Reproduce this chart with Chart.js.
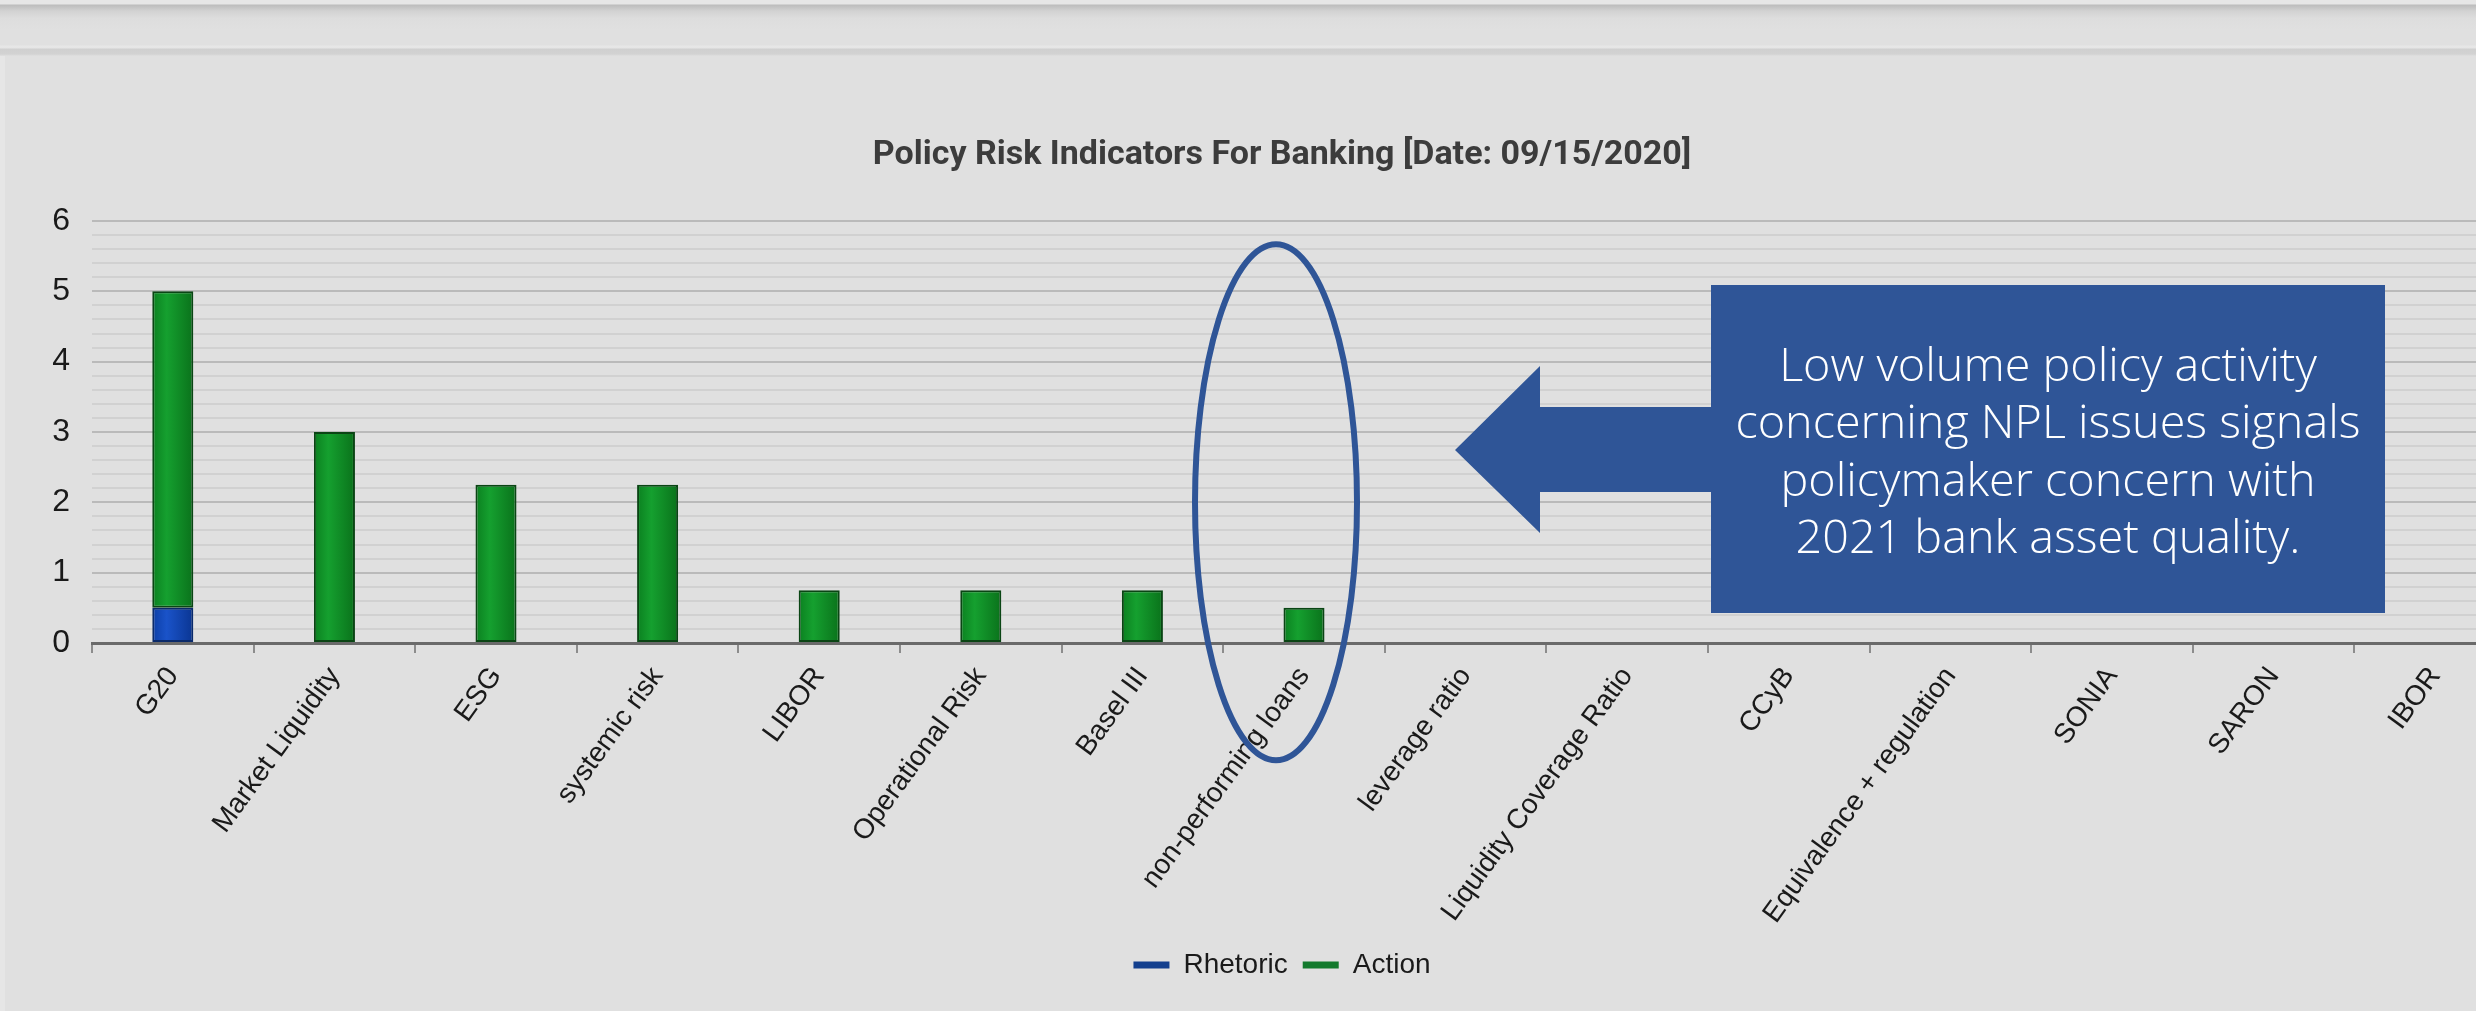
<!DOCTYPE html>
<html><head><meta charset="utf-8">
<script src="https://cdn.jsdelivr.net/npm/chart.js@4.4.1/dist/chart.umd.min.js"></script>
<style>
html,body{margin:0;padding:0;width:2476px;height:1011px;overflow:hidden;background:#e0e0e0;}
#topbar{position:absolute;left:0;top:0;width:2476px;height:56px;
  background:linear-gradient(to bottom,#e6e6e6 0px,#e6e6e6 4px,#bcbcbc 5px,#d2d2d2 11px,#dddddd 18px,#e0e0e0 30px,#e0e0e0 45px,#e7e7e7 46px,#e5e5e5 48px,#d0d0d0 49px,#d2d2d2 54px,#e0e0e0 56px);}
#leftedge{position:absolute;left:0;top:56px;width:5px;height:955px;background:#e6e6e6;}
#wrap{position:absolute;left:0;top:0;width:2564px;height:1011px;}
</style></head><body>
<div id="topbar"></div><div id="leftedge"></div>
<div id="wrap"><canvas id="c" width="2564" height="1011"></canvas></div>
<script>
// ---- data ----
const categories = ['G20','Market Liquidity','ESG','systemic risk','LIBOR','Operational Risk','Basel III','non-performing loans','leverage ratio','Liquidity Coverage Ratio','CCyB','Equivalence + regulation','SONIA','SARON','IBOR'];
const rhetoric = [0.5,0,0,0,0,0,0,0,0,0,0,0,0,0,0];
const action   = [4.5,3,2.25,2.25,0.75,0.75,0.75,0.5,0,0,0,0,0,0,0];
const seriesNames = ['Rhetoric','Action'];
const chartTitle = 'Policy Risk Indicators For Banking [Date: 09/15/2020]';
const calloutLines = ['Low volume policy activity','concerning NPL issues signals','policymaker concern with','2021 bank asset quality.'];
const highlightCategory = 'non-performing loans';

// ---- styling ----
const BAR_PCT = 0.254;
const greenStops = ['#0b8020','#15a02f','#0a721b'];
const blueStops  = ['#0c3ea6','#1a53c9','#0a3592'];
const legendColors = ['#133f8e','#137a2d'];
const calloutBlue = '#2f5597';
const isInt = v => Math.abs(v - Math.round(v)) < 1e-6;

function barGradient(c, stops){
  const chart = c.chart;
  if (!chart.chartArea || !chart.scales.x) return stops[1];
  const xs = chart.scales.x;
  const cx = xs.getPixelForValue(c.dataIndex);
  const w = xs.width / categories.length * BAR_PCT;
  const g = chart.ctx.createLinearGradient(cx - w/2, 0, cx + w/2, 0);
  g.addColorStop(0, stops[0]); g.addColorStop(0.35, stops[1]); g.addColorStop(1, stops[2]);
  return g;
}

const annotate = {
  id: 'annotate',
  afterDraw(chart){
    const {ctx, scales:{x, y}} = chart;
    ctx.save();
    const cx = x.getPixelForValue(categories.indexOf(highlightCategory)) - 28;
    const cy = y.getPixelForValue(2);
    ctx.beginPath();
    ctx.ellipse(cx, cy, 81, 258, 0, 0, Math.PI*2);
    ctx.lineWidth = 6; ctx.strokeStyle = calloutBlue; ctx.stroke();
    ctx.fillStyle = calloutBlue;
    ctx.beginPath();
    ctx.moveTo(1455,450); ctx.lineTo(1540,366); ctx.lineTo(1540,407); ctx.lineTo(1711,407);
    ctx.lineTo(1711,285); ctx.lineTo(2385,285); ctx.lineTo(2385,613); ctx.lineTo(1711,613);
    ctx.lineTo(1711,492); ctx.lineTo(1540,492); ctx.lineTo(1540,533); ctx.closePath();
    ctx.fill();
    ctx.font = '300 46px "Open Sans"';
    ctx.fillStyle = '#ffffff'; ctx.textAlign = 'center'; ctx.textBaseline = 'alphabetic';
    const maxW = Math.max(...calloutLines.map(l => ctx.measureText(l).width));
    const sx = 625 / maxW;
    calloutLines.forEach((l, i) => {
      ctx.save(); ctx.translate(2048, 381 + i*57.3); ctx.scale(sx, 1); ctx.fillText(l, 0, 0); ctx.restore();
    });
    ctx.restore();
  }
};

const tickFont = {family:'"Liberation Sans", Arial, sans-serif', size:28};

new Chart(document.getElementById('c'), {
  type: 'bar',
  data: {
    labels: categories,
    datasets: [
      {label: seriesNames[0], data: rhetoric, backgroundColor: c => barGradient(c, blueStops),
       borderColor: '#0a2a6a', borderWidth: 2, borderSkipped: false, barPercentage: BAR_PCT, categoryPercentage: 1},
      {label: seriesNames[1], data: action, backgroundColor: c => barGradient(c, greenStops),
       borderColor: '#0a4514', borderWidth: 2, borderSkipped: false, barPercentage: BAR_PCT, categoryPercentage: 1}
    ]
  },
  options: {
    responsive: false, animation: false,
    layout: {padding: {left: 48, right: 48, top: 0, bottom: 22}},
    scales: {
      x: {
        stacked: true,
        grid: {offset: true, drawOnChartArea: false, drawTicks: true, tickLength: 10, color: '#8c8c8c', lineWidth: 2},
        border: {display: true, color: '#6a6a6a', width: 3},
        ticks: {minRotation: 54, maxRotation: 54, autoSkip: false, color: '#1a1a1a', font: tickFont, padding: 8},
        afterFit: s => { s.height = 293; }
      },
      y: {
        stacked: true, min: 0, max: 6,
        ticks: {stepSize: 0.2, maxTicksLimit: 40, autoSkip: false, padding: 22, color: '#1a1a1a',
                font: {family: tickFont.family, size: 32},
                callback: v => isInt(v) ? String(Math.round(v)) : ''},
        grid: {drawTicks: false, color: c => isInt(c.tick.value) ? '#bababa' : '#d1d1d1', lineWidth: 2},
        border: {display: false},
        afterFit: s => { s.width = 44; }
      }
    },
    plugins: {
      title: {display: true, text: chartTitle, color: '#3c3c3c',
              font: {family: 'Roboto', size: 34, weight: 'bold'}, padding: {top: 135.1, bottom: 45.1}},
      legend: {position: 'bottom',
        labels: {usePointStyle: true, pointStyleWidth: 36, padding: 15, color: '#1a1a1a', font: tickFont,
          generateLabels: chart => chart.data.datasets.map((ds, i) => ({
            text: ds.label, fillStyle: legendColors[i], strokeStyle: legendColors[i], lineWidth: 7,
            pointStyle: 'line', hidden: false, datasetIndex: i, fontColor: '#1a1a1a', lineCap: 'butt'}))}},
      tooltip: {enabled: false}
    }
  },
  plugins: [annotate]
});
</script>
</body></html>
